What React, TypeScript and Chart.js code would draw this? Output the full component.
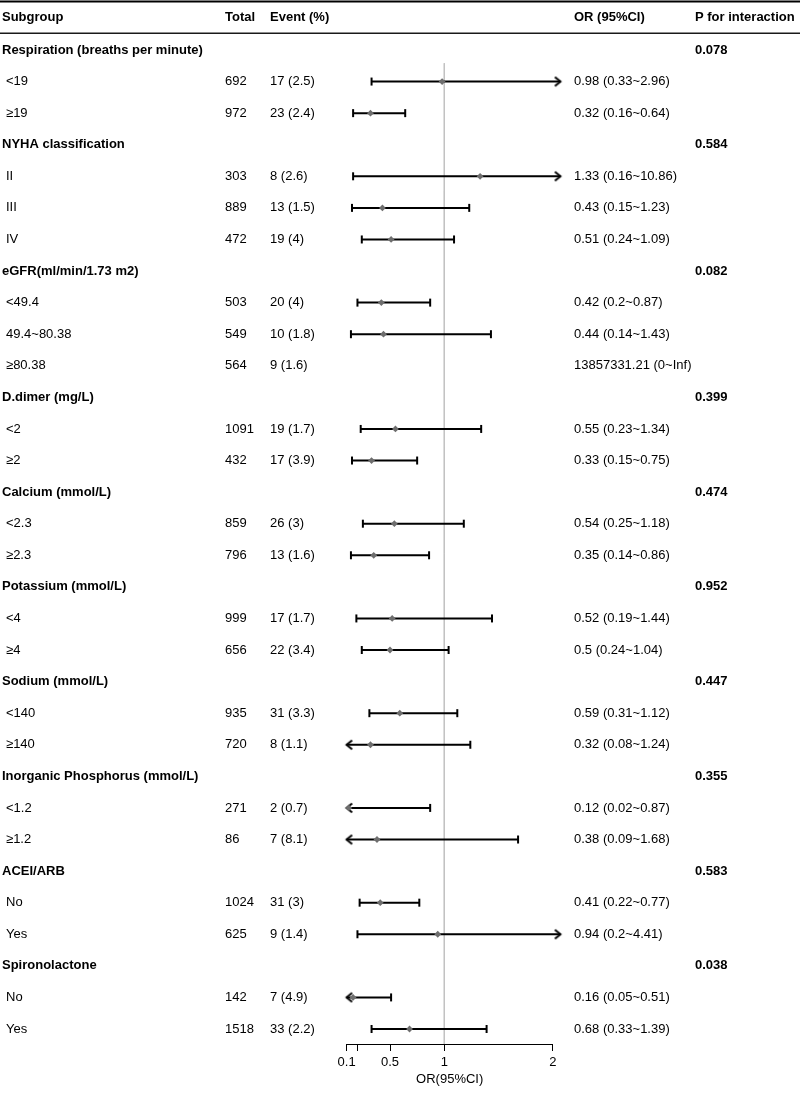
import { useEffect, useRef } from "react";
import { Chart, registerables } from "chart.js";

Chart.register(...registerables);

const FONT = '"Liberation Sans", Arial, Helvetica, sans-serif';

// ---------------- data ----------------
const columnHeaders = ["Subgroup", "Total", "Event (%)", "OR (95%CI)", "P for interaction"];

const subgroupLabels = [
  "Respiration (breaths per minute)", "<19", "≥19",
  "NYHA classification", "II", "III", "IV",
  "eGFR(ml/min/1.73 m2)", "<49.4", "49.4~80.38", "≥80.38",
  "D.dimer (mg/L)", "<2", "≥2",
  "Calcium (mmol/L)", "<2.3", "≥2.3",
  "Potassium (mmol/L)", "<4", "≥4",
  "Sodium (mmol/L)", "<140", "≥140",
  "Inorganic Phosphorus (mmol/L)", "<1.2", "≥1.2",
  "ACEI/ARB", "No", "Yes",
  "Spironolactone", "No", "Yes",
];

const totals: (number | null)[] = [
  null, 692, 972,
  null, 303, 889, 472,
  null, 503, 549, 564,
  null, 1091, 432,
  null, 859, 796,
  null, 999, 656,
  null, 935, 720,
  null, 271, 86,
  null, 1024, 625,
  null, 142, 1518,
];

const events: string[] = [
  "", "17 (2.5)", "23 (2.4)",
  "", "8 (2.6)", "13 (1.5)", "19 (4)",
  "", "20 (4)", "10 (1.8)", "9 (1.6)",
  "", "19 (1.7)", "17 (3.9)",
  "", "26 (3)", "13 (1.6)",
  "", "17 (1.7)", "22 (3.4)",
  "", "31 (3.3)", "8 (1.1)",
  "", "2 (0.7)", "7 (8.1)",
  "", "31 (3)", "9 (1.4)",
  "", "7 (4.9)", "33 (2.2)",
];

const orValues: (number | null)[] = [
  null, 0.98, 0.32,
  null, 1.33, 0.43, 0.51,
  null, 0.42, 0.44, 13857331.21,
  null, 0.55, 0.33,
  null, 0.54, 0.35,
  null, 0.52, 0.5,
  null, 0.59, 0.32,
  null, 0.12, 0.38,
  null, 0.41, 0.94,
  null, 0.16, 0.68,
];

const lowerCI: (number | null)[] = [
  null, 0.33, 0.16,
  null, 0.16, 0.15, 0.24,
  null, 0.2, 0.14, 0,
  null, 0.23, 0.15,
  null, 0.25, 0.14,
  null, 0.19, 0.24,
  null, 0.31, 0.08,
  null, 0.02, 0.09,
  null, 0.22, 0.2,
  null, 0.05, 0.33,
];

const upperCI: (number | null)[] = [
  null, 2.96, 0.64,
  null, 10.86, 1.23, 1.09,
  null, 0.87, 1.43, Infinity,
  null, 1.34, 0.75,
  null, 1.18, 0.86,
  null, 1.44, 1.04,
  null, 1.12, 1.24,
  null, 0.87, 1.68,
  null, 0.77, 4.41,
  null, 0.51, 1.39,
];

const pInteraction: (string | null)[] = [
  "0.078", null, null,
  "0.584", null, null, null,
  "0.082", null, null, null,
  "0.399", null, null,
  "0.474", null, null,
  "0.952", null, null,
  "0.447", null, null,
  "0.355", null, null,
  "0.583", null, null,
  "0.038", null, null,
];

const tickValues = [0.1, 0.2, 0.5, 1, 2];
const tickLabels = ["0.1", "", "0.5", "1", "2"];
const axisTitle = "OR(95%CI)";
const referenceValue = 1;
const X_MIN = 0.1;
const X_MAX = 2;

// ---------------- layout / style ----------------
const W = 800;
const H = 1093;
const COL_X = [2, 225, 270, 574, 695];
const ITEM_INDENT = 4;
const Y_MIN = -1.5;
const Y_MAX = 31.475;
const ARROW_OVERSHOOT = 1.035;

const fmt = (v: number) => (v === Infinity ? "Inf" : String(v));
const orText = (i: number) =>
  `${fmt(orValues[i] as number)} (${fmt(lowerCI[i] as number)}~${fmt(upperCI[i] as number)})`;

function makeArrow(dir: "left" | "right") {
  const c = document.createElement("canvas");
  c.width = 16;
  c.height = 12;
  const g = c.getContext("2d")!;
  g.strokeStyle = "#000";
  g.lineWidth = 2;
  g.lineJoin = "miter";
  g.beginPath();
  if (dir === "right") {
    g.moveTo(2.5, 1.5);
    g.lineTo(8, 6);
    g.lineTo(2.5, 10.5);
  } else {
    g.moveTo(13.5, 1.5);
    g.lineTo(8, 6);
    g.lineTo(13.5, 10.5);
  }
  g.stroke();
  return c;
}

const tablePlugin = {
  id: "forestTable",
  afterDraw(chart: any) {
    const ctx = chart.ctx as CanvasRenderingContext2D;
    const ys = chart.scales.y;
    ctx.save();
    // rules
    ctx.strokeStyle = "#000";
    ctx.lineWidth = 2;
    const topY = ys.getPixelForValue(Y_MIN) - 1;
    ctx.beginPath();
    ctx.moveTo(0, topY);
    ctx.lineTo(W, topY);
    ctx.stroke();
    ctx.lineWidth = 1.5;
    ctx.strokeStyle = "#1a1a1a";
    const hy = ys.getPixelForValue(-0.5) - 1;
    ctx.beginPath();
    ctx.moveTo(0, hy);
    ctx.lineTo(W, hy);
    ctx.stroke();

    ctx.fillStyle = "#000";
    ctx.textBaseline = "middle";
    ctx.textAlign = "left";
    ctx.font = `bold 13px ${FONT}`;
    const headY = ys.getPixelForValue(-1) - 1;
    columnHeaders.forEach((h, c) => ctx.fillText(h, COL_X[c], headY));

    subgroupLabels.forEach((label, i) => {
      const y = ys.getPixelForValue(i);
      const group = totals[i] == null;
      if (group) {
        ctx.font = `bold 13px ${FONT}`;
        ctx.fillText(label, COL_X[0], y);
        const p = pInteraction[i];
        if (p) ctx.fillText(p, COL_X[4], y);
      } else {
        ctx.font = `13px ${FONT}`;
        ctx.fillText(label, COL_X[0] + ITEM_INDENT, y);
        ctx.fillText(String(totals[i]), COL_X[1], y);
        ctx.fillText(events[i], COL_X[2], y);
        ctx.fillText(orText(i), COL_X[3], y);
      }
    });
    ctx.restore();
  },
};

export default function App() {
  const ref = useRef<HTMLCanvasElement | null>(null);

  useEffect(() => {
    if (!ref.current) return;
    Chart.defaults.font.family = FONT;
    Chart.defaults.color = "#000";

    const leftArrow = makeArrow("left");
    const rightArrow = makeArrow("right");

    const ciData: any[] = [];
    const pointData: any[] = [];
    orValues.forEach((or, i) => {
      if (or == null) return;
      if (!(or >= X_MIN && or <= X_MAX)) return;
      const lo = lowerCI[i] as number;
      const hi = upperCI[i] as number;
      ciData.push(
        lo < X_MIN ? { x: X_MIN, y: i, end: "left" } : { x: lo, y: i, end: "cap" },
        hi > X_MAX ? { x: X_MAX * ARROW_OVERSHOOT, y: i, end: "right" } : { x: hi, y: i, end: "cap" },
        { x: null, y: null, end: "gap" }
      );
      pointData.push({ x: or, y: i });
    });

    const chart = new Chart(ref.current, {
      type: "scatter",
      data: {
        datasets: [
          {
            label: "OR",
            data: pointData,
            pointStyle: "rectRot",
            pointRadius: 3.4,
            pointHoverRadius: 3.4,
            pointBackgroundColor: "#6e6e6e",
            pointBorderColor: "#6e6e6e",
            pointBorderWidth: 0,
            clip: false as any,
            order: 0,
          },
          {
            label: "CI",
            data: ciData,
            showLine: true,
            spanGaps: false,
            borderColor: "#000",
            borderWidth: 2,
            pointStyle: ((c: any) =>
              c.raw?.end === "left" ? leftArrow : c.raw?.end === "right" ? rightArrow : "line") as any,
            rotation: ((c: any) => (c.raw?.end === "cap" ? 90 : 0)) as any,
            pointRadius: ((c: any) => (c.raw?.end === "left" || c.raw?.end === "right" ? 10 : 4)) as any,
            pointHoverRadius: ((c: any) => (c.raw?.end === "left" || c.raw?.end === "right" ? 10 : 4)) as any,
            pointBorderColor: "#000",
            pointBackgroundColor: "#000",
            pointBorderWidth: 2,
            clip: false as any,
            order: 1,
          },
          {
            label: "ref",
            data: [
              { x: referenceValue, y: 0.42 },
              { x: referenceValue, y: Y_MAX },
            ],
            showLine: true,
            borderColor: "#c2c2c2",
            borderWidth: 1,
            pointRadius: 0,
            pointHoverRadius: 0,
            order: 2,
          },
        ],
      },
      options: {
        responsive: false,
        animation: false,
        devicePixelRatio: 1,
        events: [],
        layout: { autoPadding: false, padding: { left: 346.6, right: W - 552.8, top: 2.6, bottom: 0 } },
        plugins: { legend: { display: false }, tooltip: { enabled: false } },
        scales: {
          x: {
            type: "linear",
            position: "bottom",
            min: X_MIN,
            max: X_MAX,
            afterBuildTicks: (scale: any) => {
              scale.ticks = tickValues.map((v) => ({ value: v }));
            },
            afterFit: (scale: any) => {
              scale.height = 49;
            },
            ticks: {
              autoSkip: false,
              maxRotation: 0,
              minRotation: 0,
              padding: 4,
              color: "#000",
              font: { size: 13, family: FONT },
              callback: (v: any) => {
                const k = tickValues.indexOf(Number(v));
                return k >= 0 ? tickLabels[k] : "";
              },
            },
            grid: {
              display: true,
              drawOnChartArea: false,
              drawTicks: true,
              tickLength: 7,
              color: "#000",
              lineWidth: 1,
            },
            border: { display: true, color: "#000", width: 1 },
            title: {
              display: true,
              text: axisTitle,
              color: "#000",
              font: { size: 13, family: FONT },
              padding: { top: 0, bottom: 6 },
            },
          },
          y: {
            type: "linear",
            display: false,
            reverse: true,
            min: Y_MIN,
            max: Y_MAX,
          },
        },
      },
      plugins: [tablePlugin],
    } as any);

    return () => chart.destroy();
  }, []);

  return (
    <div style={{ position: "absolute", left: 0, top: 0, width: W, height: H, background: "#fff" }}>
      <canvas ref={ref} width={W} height={H} style={{ display: "block" }} />
    </div>
  );
}
